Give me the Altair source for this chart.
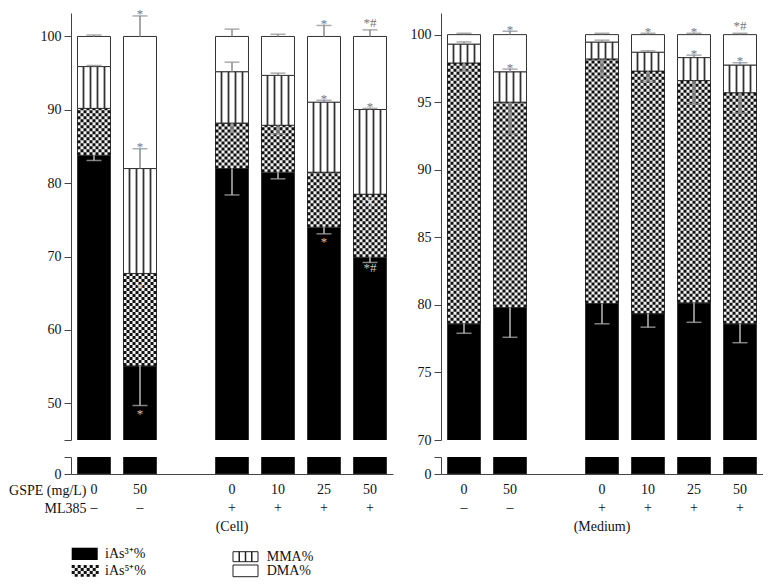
import altair as alt
import pandas as pd

FONT = "Liberation Serif"

# ---------------- data ----------------
gspe = ["0", "50", "0", "10", "25", "50"]
ml385 = ["–", "–", "+", "+", "+", "+"]
segments = ["iAs3", "iAs5", "MMA", "DMA"]

# Cell (percent of total arsenic)
cell_ias3 = [83.8, 55.1, 82.0, 81.5, 74.0, 69.9]
cell_ias5 = [6.4, 12.6, 6.2, 6.4, 7.5, 8.6]
cell_mma = [5.7, 14.3, 7.0, 6.8, 9.55, 11.55]
cell_dma = [4.1, 18.0, 4.8, 5.3, 8.95, 9.95]
cell_ias3_err = [0.7, 5.4, 3.6, 0.9, 0.9, 0.7]
cell_ias5_err = [0.0, 0.0, 1.3, 1.2, 0.0, 0.0]
cell_mma_err = [0.15, 2.7, 1.3, 0.3, 0.25, 0.15]
cell_dma_err = [0.2, 2.8, 1.0, 0.3, 1.5, 0.9]
cell_marks = [(1, "DMA", "*"), (4, "DMA", "*"), (5, "DMA", "*#"),
              (1, "MMA", "*"), (4, "MMA", "*"), (5, "MMA", "*"),
              (1, "iAs3", "*"), (4, "iAs3", "*"), (5, "iAs3", "*#"),
              (1, "iAs5", "*"), (5, "iAs5", "#")]

# Medium
med_ias3 = [78.6, 79.8, 80.1, 79.35, 80.15, 78.6]
med_ias5 = [19.3, 15.2, 18.1, 17.95, 16.45, 17.1]
med_mma = [1.4, 2.25, 1.25, 1.4, 1.7, 2.05]
med_dma = [0.7, 2.75, 0.55, 1.3, 1.7, 2.25]
med_ias3_err = [0.7, 2.2, 1.5, 1.0, 1.44, 1.4]
med_ias5_err = [0.6, 2.35, 1.25, 0.74, 1.72, 1.5]
med_mma_err = [0.16, 0.2, 0.14, 0.1, 0.18, 0.17]
med_dma_err = [0.1, 0.25, 0.1, 0.1, 0.1, 0.1]
med_marks = [(1, "DMA", "*"), (3, "DMA", "*"), (4, "DMA", "*"), (5, "DMA", "*#"),
             (1, "MMA", "*"), (4, "MMA", "*"), (5, "MMA", "*")]

legend_labels = ["iAs³⁺%", "iAs⁵⁺%", "MMA%", "DMA%"]

W = 322
H_UP = 427
H_LO = 17
AX = "#444"


def build_tables(group, vals, errs, marks):
    keys = []
    for i, (g, m) in enumerate(zip(gspe, ml385)):
        k = f"{g}|{m}"
        if i == 2:
            k += f"|{group}"
        keys.append(k)
    domain = keys[:2] + ["gap"] + keys[2:]
    bars, ebars, info = [], [], {}
    for i, k in enumerate(keys):
        base = 0.0
        for s, v, e in zip(segments, [a[i] for a in vals], [a[i] for a in errs]):
            top = base + v
            bars.append(dict(key=k, seg=s, y0=base, y1=top))
            end = top
            if e > 0:
                end = top - e if s in ("iAs3", "iAs5") else top + e
                ebars.append(dict(key=k, seg=s, top=top, end=end))
            info[(i, s)] = (top, end)
            base = top
    ann = []
    for i, s, t in marks:
        top, end = info[(i, s)]
        kind = "above" if s in ("MMA", "DMA") else ("below" if s == "iAs3" else "inside")
        y = top if kind == "inside" else end
        ann.append(dict(key=keys[i], y=y, text=t, kind=kind, hash="#" in t))
    return domain, pd.DataFrame(bars), pd.DataFrame(ebars), pd.DataFrame(ann)


def panel(group, vals, errs, marks, ydom, yticks, hidden_tick, with_title, with_legend):
    domain, bars, ebars, ann = build_tables(group, vals, errs, marks)
    xs = alt.Scale(domain=domain, paddingInner=0.283, paddingOuter=0.1415)
    X = alt.X("key:N", scale=xs, axis=None)
    ys = alt.Scale(domain=ydom, nice=False, zero=False)
    yaxis = alt.Axis(values=yticks, title=None, grid=False, tickSize=7,
                     labelExpr=f"datum.value == {hidden_tick} ? '' : datum.label",
                     domainColor=AX, tickColor=AX, labelPadding=3)
    segcol = alt.Color("seg:N", legend=None,
                       scale=alt.Scale(domain=segments, range=["#000000", "#f2f2f2", "#ffffff", "#ffffff"]))
    base = alt.Chart(bars)
    layers = [base.mark_bar(clip=True, stroke="#333", strokeWidth=1).encode(
        x=X, y=alt.Y("y0:Q", scale=ys, axis=yaxis), y2="y1:Q", color=segcol)]
    ck = base.transform_filter("datum.seg == 'iAs5'")
    for k in range(11):
        layers.append(ck.mark_rule(clip=True, strokeWidth=3, strokeDash=[3, 3],
                                   strokeDashOffset=3 * (k % 2), color="#111",
                                   xOffset=-15 + 3 * k).encode(x=X, y="y0:Q", y2="y1:Q"))
    mm = base.transform_filter("datum.seg == 'MMA'")
    for off in [-10.5, -3.5, 3.5, 10.5]:
        layers.append(mm.mark_rule(clip=True, strokeWidth=1.8, color="#333", xOffset=off)
                      .encode(x=X, y="y0:Q", y2="y1:Q"))
    eb = alt.Chart(ebars)
    for cond, col in [("datum.seg == 'iAs3'", "#b8b8b8"), ("datum.seg != 'iAs3'", "#8a8a8a")]:
        e = eb.transform_filter(cond)
        layers.append(e.mark_rule(strokeWidth=1.5, color=col).encode(x=X, y="top:Q", y2="end:Q"))
        layers.append(e.mark_tick(size=15, thickness=1.5, color=col, orient="horizontal")
                      .encode(x=X, y="end:Q"))
    an = alt.Chart(ann)
    spec = [("above", False, 2.5, "#777777"), ("above", True, -3, "#777777"),
            ("below", False, 12.5, "#c4c4c4"), ("below", True, 9.5, "#c4c4c4"),
            ("inside", False, 19, "#d4d4d4"), ("inside", True, 12, "#d4d4d4")]
    for kind, h, dy, col in spec:
        f = f"datum.kind == '{kind}' && datum.hash == {'true' if h else 'false'}"
        layers.append(an.transform_filter(f).mark_text(font=FONT, fontSize=13, dy=dy,
                                                        baseline="alphabetic")
                      .encode(x=X, y="y:Q", text="text:N", color=alt.value(col)))
    upper = alt.layer(*layers).properties(width=W, height=H_UP)

    # lower (broken-axis) part
    xaxis_kw = dict(labelExpr="datum.value == 'gap' ? '' : split(datum.value, '|')",
                    ticks=False, labelPadding=8, labelLineHeight=18.5, labelAngle=0,
                    labelOverlap=False, labelLimit=200, domainColor=AX, labelFontSize=14)
    if with_title:
        xaxis_kw.update(title=["GSPE (mg/L)", "ML385\u00a0\u00a0"], titleX=15, titleY=9,
                        titleAlign="right", titleBaseline="top", titleLineHeight=18.5,
                        titleFontWeight="normal", titleFontSize=14, titleFont=FONT,
                        titleColor="#111")
    else:
        xaxis_kw.update(title=None)
    XL = alt.X("key:N", scale=xs, axis=alt.Axis(**xaxis_kw))
    ylo = alt.Y("y0:Q", scale=alt.Scale(domain=[0, 2.3], nice=False),
                axis=alt.Axis(values=[0, 2.3], labelExpr="datum.value == 0 ? '0' : ''",
                              title=None, grid=False, tickSize=7, domainColor=AX,
                              tickColor=AX, labelPadding=3))
    lo_layers = [alt.Chart(bars).transform_filter("datum.seg == 'iAs3'")
                 .mark_bar(clip=True, color="#000", stroke="#333", strokeWidth=1)
                 .encode(x=XL, y=ylo, y2="y1:Q")]
    if with_legend:
        one = alt.Chart(pd.DataFrame({"k": [0]}))
        lo_layers.append(one.mark_rect(color="#000").encode(
            x=alt.value(0.7), x2=alt.value(26.7), y=alt.value(90.7), y2=alt.value(103)))
        lo_layers.append(one.mark_rect(color="#f2f2f2").encode(
            x=alt.value(0.7), x2=alt.value(26.7), y=alt.value(108), y2=alt.value(119.7)))
        for k in range(9):
            lo_layers.append(one.mark_rule(strokeWidth=3, strokeDash=[3, 3],
                                           strokeDashOffset=3 * (k % 2), color="#111").encode(
                x=alt.value(2.2 + 3 * k), y=alt.value(108), y2=alt.value(119.7)))
        for yy in [(94.7, 104.7), (108, 119.7)]:
            lo_layers.append(one.mark_rect(fill="#fff", stroke="#222", strokeWidth=1).encode(
                x=alt.value(162), x2=alt.value(187), y=alt.value(yy[0]), y2=alt.value(yy[1])))
        for xx in [168.25, 174.5, 180.75]:
            lo_layers.append(one.mark_rule(strokeWidth=1.5, color="#222").encode(
                x=alt.value(xx), y=alt.value(94.7), y2=alt.value(104.7)))
        for lab, xx, yy in [(legend_labels[0], 34, 96.5), (legend_labels[1], 34, 114),
                            (legend_labels[2], 195.7, 99.7), (legend_labels[3], 195.7, 114)]:
            lo_layers.append(one.mark_text(font=FONT, fontSize=14, align="left",
                                           baseline="middle", color="#111").encode(
                x=alt.value(xx), y=alt.value(yy), text=alt.value(lab)))
    lower = alt.layer(*lo_layers).properties(width=W, height=H_LO)
    return alt.vconcat(upper, lower, spacing=17, bounds="flush")


left = panel("(Cell)",
             [cell_ias3, cell_ias5, cell_mma, cell_dma],
             [cell_ias3_err, cell_ias5_err, cell_mma_err, cell_dma_err],
             cell_marks, [45, 103.2], [45, 50, 60, 70, 80, 90, 100], 45, True, True)
right = panel("(Medium)",
              [med_ias3, med_ias5, med_mma, med_dma],
              [med_ias3_err, med_ias5_err, med_mma_err, med_dma_err],
              med_marks, [70, 101.6], [70, 75, 80, 85, 90, 95, 100], -1, False, False)

chart = alt.hconcat(left, right, spacing=17).properties(
    padding={"left": 0, "top": 0, "right": 0, "bottom": 0}
).configure_view(stroke=None).configure_axis(
    labelFont=FONT, labelFontSize=14, labelColor="#111"
)

chart.save("out.html", embed_options={"renderer": "svg", "actions": False})
